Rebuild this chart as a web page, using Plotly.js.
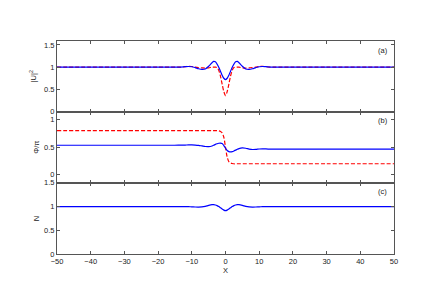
<!DOCTYPE html>
<html>
<head>
<meta charset="utf-8">
<script src="https://cdn.plot.ly/plotly-3.0.1.min.js"></script>
<style>html,body{margin:0;padding:0;background:#fff;}#chart{width:436px;height:286px;}</style>
</head>
<body>
<div id="chart"></div>
<script>
// sample positions along X
const xs = [-50,-40,-30,-20,-16,-14,-12,-11,-10,-9,-8,-7,-6,-5,-4,-3.5,-3,-2.5,-2,-1.5,-1,-0.5,0,0.5,1,1.5,2,2.5,3,3.5,4,5,6,7,8,9,10,11,12,14,16,20,30,40,50];

// panel (a): |U|^2
const uBlue = [1,1,1,1,1,1.0,1.01,1.015,1.01,0.99,0.965,0.95,0.96,1.02,1.10,1.13,1.12,1.07,1.0,0.91,0.82,0.75,0.72,0.75,0.82,0.91,1.0,1.07,1.12,1.13,1.10,1.02,0.96,0.95,0.965,0.99,1.01,1.015,1.01,1.0,1,1,1,1,1];
const uRed  = [1,1,1,1,1,1,1.01,1.02,1.015,1.0,0.99,0.985,0.98,0.985,1.0,1.0,1.0,0.99,0.93,0.8,0.62,0.45,0.36,0.45,0.62,0.8,0.93,0.99,1.0,1.0,1.0,0.985,0.98,0.985,0.99,1.0,1.015,1.02,1.01,1,1,1,1,1,1];

// panel (b): Phi/pi
const phiBlue = [0.535,0.535,0.535,0.535,0.535,0.536,0.538,0.54,0.54,0.538,0.533,0.523,0.512,0.51,0.522,0.535,0.55,0.562,0.571,0.575,0.565,0.53,0.48,0.44,0.42,0.415,0.42,0.432,0.447,0.462,0.475,0.486,0.48,0.466,0.458,0.46,0.467,0.47,0.468,0.463,0.465,0.465,0.465,0.465,0.465];
const phiRed  = [0.8,0.8,0.8,0.8,0.8,0.8,0.8,0.8,0.8,0.8,0.8,0.8,0.8,0.8,0.8,0.8,0.8,0.8,0.795,0.785,0.76,0.68,0.5,0.32,0.24,0.215,0.205,0.2,0.2,0.2,0.2,0.2,0.2,0.2,0.2,0.2,0.2,0.2,0.2,0.2,0.2,0.2,0.2,0.2,0.2];

// panel (c): N
const nBlue = [1,1,1,1,1,1,1.0,0.998,0.995,0.991,0.99,0.993,1.005,1.025,1.04,1.04,1.033,1.02,1.0,0.975,0.95,0.925,0.915,0.925,0.95,0.975,1.0,1.02,1.033,1.04,1.04,1.025,1.005,0.993,0.99,0.991,0.995,0.998,1.0,1,1,1,1,1,1];

const xTicks = [-50,-40,-30,-20,-10,0,10,20,30,40,50];
const panelLabels = ['(a)','(b)','(c)'];

const blue = '#0000ff', red = '#ff0000';
const lineB = {color: blue, width: 1.2, shape: 'spline', smoothing: 0.8};
const lineR = {color: red, width: 1.2, dash: '4px,2px', shape: 'spline', smoothing: 0.8};

const data = [
  {x: xs, y: uRed, xaxis: 'x', yaxis: 'y', mode: 'lines', line: lineR},
  {x: xs, y: uBlue, xaxis: 'x', yaxis: 'y', mode: 'lines', line: lineB},
  {x: xs, y: phiRed, xaxis: 'x2', yaxis: 'y2', mode: 'lines', line: lineR},
  {x: xs, y: phiBlue, xaxis: 'x2', yaxis: 'y2', mode: 'lines', line: lineB},
  {x: xs, y: nBlue, xaxis: 'x3', yaxis: 'y3', mode: 'lines', line: lineB}
];

const font = {family: 'Liberation Sans, Arial, sans-serif', size: 7.5, color: '#222'};
const axCol = '#555';
function xa(domainAnchor, labels) {
  return {
    anchor: domainAnchor, range: [-50, 50], tickvals: xTicks,
    showticklabels: labels, ticks: 'inside', ticklen: 3, tickcolor: axCol,
    showline: true, linecolor: axCol, linewidth: 1, mirror: 'ticks',
    showgrid: false, zeroline: false, tickfont: font
  };
}
function ya(domain, range, tv, anchor, title, standoff) {
  return {
    domain: domain, range: range, tickvals: tv, anchor: anchor,
    ticks: 'inside', ticklen: 3, tickcolor: axCol,
    showline: true, linecolor: axCol, linewidth: 1, mirror: 'ticks',
    showgrid: false, zeroline: false, tickfont: font,
    title: {text: title, font: font, standoff: standoff}
  };
}

const layout = {
  width: 436, height: 286,
  margin: {l: 57, r: 42, t: 41, b: 32},
  paper_bgcolor: '#fff', plot_bgcolor: '#fff',
  showlegend: false, font: font,
  xaxis: xa('y', false),
  xaxis2: Object.assign(xa('y2', false), {matches: 'x'}),
  xaxis3: Object.assign(xa('y3', true), {matches: 'x', title: {text: 'X', font: font, standoff: 2}}),
  yaxis: ya([0.669, 1], [0, 1.59], [0, 0.5, 1, 1.5], 'x', '|U|<sup>2</sup>', 6),
  yaxis2: ya([0.334, 0.669], [-0.145, 1.145], [0, 0.5, 1], 'x2', 'Φ/π', 3),
  yaxis3: ya([0, 0.334], [0, 1.5], [0, 0.5, 1, 1.5], 'x3', 'N', 3),
  annotations: [
    {text: panelLabels[0], xref: 'paper', yref: 'paper', x: 0.9665, y: 0.956, showarrow: false, font: font, xanchor: 'center', yanchor: 'middle'},
    {text: panelLabels[1], xref: 'paper', yref: 'paper', x: 0.9665, y: 0.628, showarrow: false, font: font, xanchor: 'center', yanchor: 'middle'},
    {text: panelLabels[2], xref: 'paper', yref: 'paper', x: 0.9665, y: 0.295, showarrow: false, font: font, xanchor: 'center', yanchor: 'middle'}
  ]
};

Plotly.newPlot('chart', data, layout, {displayModeBar: false, staticPlot: true});
</script>
</body>
</html>
